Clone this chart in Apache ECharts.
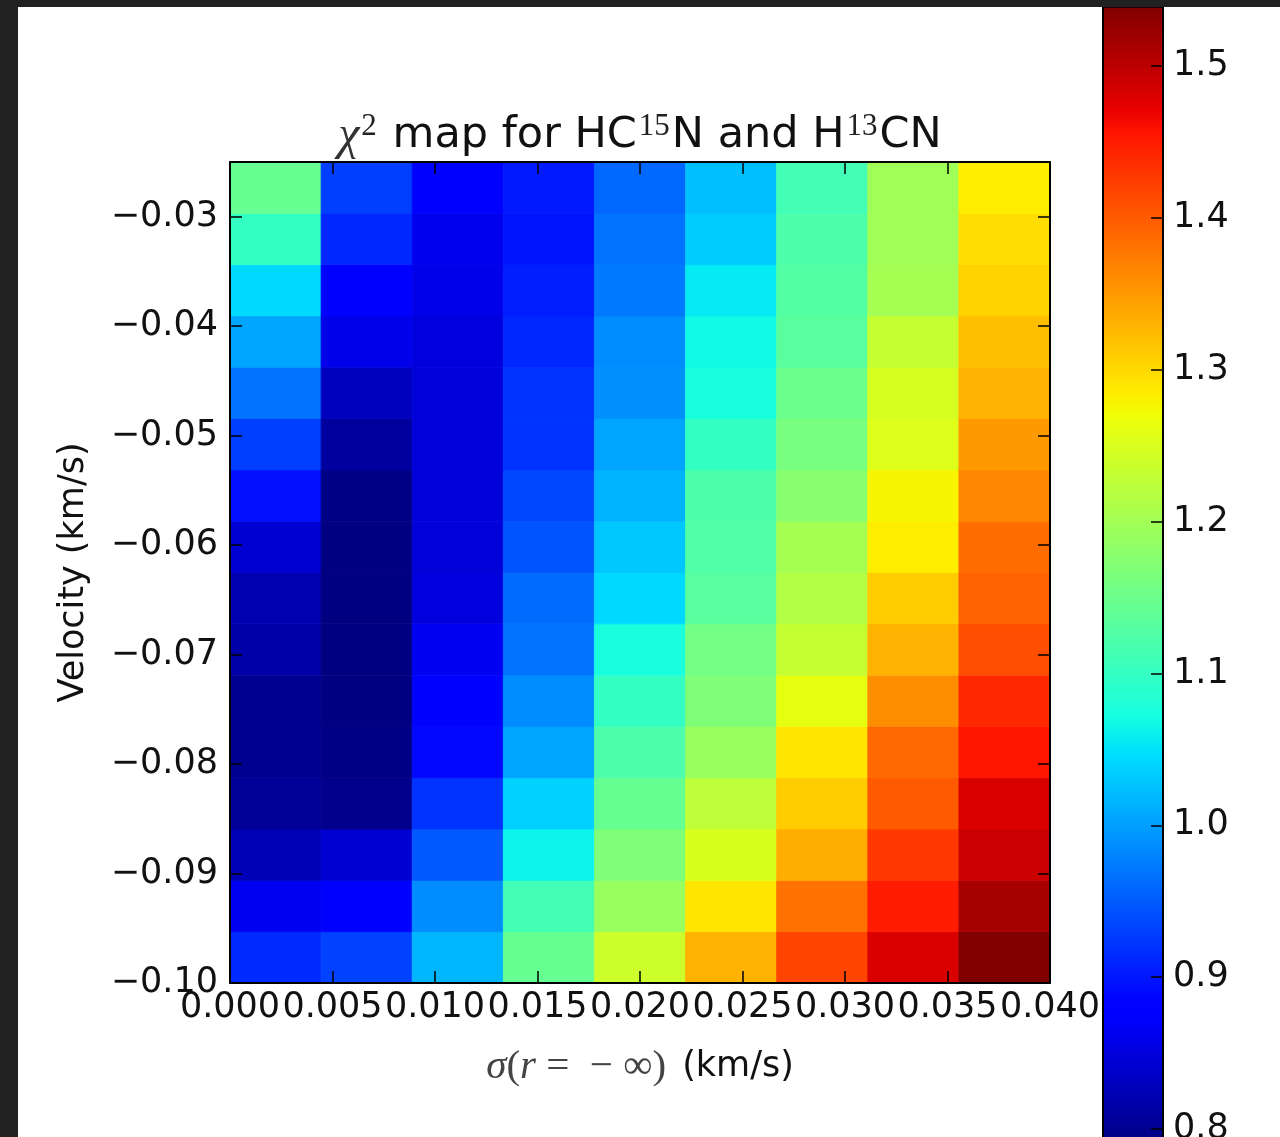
<!DOCTYPE html>
<html><head><meta charset="utf-8">
<script src="https://cdn.jsdelivr.net/npm/echarts@6/dist/echarts.min.js"></script>
<style>html,body{margin:0;padding:0;background:#fff}#c{width:1280px;height:1137px}</style>
</head><body><div id="c"></div>
<script>
// ---- data ----
const sigma = [0.000, 0.005, 0.010, 0.015, 0.020, 0.025, 0.030, 0.035, 0.040];          // km/s (columns)
const velocity = [-0.100, -0.095, -0.090, -0.085, -0.080, -0.075, -0.070, -0.065,
                  -0.060, -0.055, -0.050, -0.045, -0.040, -0.035, -0.030, -0.025];      // km/s (rows, bottom -> top)
// chi^2 per sigma column, ordered as `velocity`
const chi2_s000 = [0.915,0.863,0.826,0.806,0.800,0.800,0.816,0.821,0.843,0.895,0.930,0.968,1.005,1.043,1.099,1.145];
const chi2_s005 = [0.932,0.880,0.843,0.798,0.793,0.790,0.790,0.790,0.790,0.793,0.810,0.831,0.859,0.878,0.912,0.930];
const chi2_s010 = [1.018,0.987,0.949,0.921,0.888,0.876,0.864,0.852,0.848,0.848,0.848,0.848,0.851,0.859,0.861,0.880];
const chi2_s015 = [1.145,1.112,1.063,1.037,1.005,0.987,0.968,0.962,0.945,0.936,0.921,0.921,0.912,0.906,0.898,0.902];
const chi2_s020 = [1.238,1.191,1.168,1.145,1.122,1.099,1.075,1.043,1.030,1.015,1.005,0.990,0.987,0.973,0.968,0.959];
const chi2_s025 = [1.330,1.290,1.250,1.225,1.191,1.168,1.157,1.133,1.125,1.122,1.099,1.075,1.067,1.056,1.033,1.024];
const chi2_s030 = [1.417,1.382,1.334,1.310,1.290,1.262,1.231,1.215,1.202,1.176,1.161,1.150,1.133,1.128,1.122,1.112];
const chi2_s035 = [1.481,1.449,1.427,1.400,1.389,1.360,1.330,1.310,1.284,1.277,1.254,1.247,1.232,1.202,1.198,1.198];
const chi2_s040 = [1.539,1.514,1.490,1.481,1.455,1.440,1.410,1.394,1.385,1.364,1.350,1.330,1.320,1.304,1.296,1.284];
const chi2Columns = [chi2_s000, chi2_s005, chi2_s010, chi2_s015, chi2_s020, chi2_s025, chi2_s030, chi2_s035, chi2_s040];
// image extent and axis ticks
const sigmaExtent = [0.000, 0.040];
const velocityExtent = [-0.100, -0.025];
const sigmaTickStep = 0.005;
const velocityTickStep = 0.01;
const colorbarTickStep = 0.1;
const colorbarAxisRange = [0.7, 1.6];

// ---- jet colormap ----
const JET = {
  r: [[0,0],[0.35,0],[0.66,1],[0.89,1],[1,0.5]],
  g: [[0,0],[0.125,0],[0.375,1],[0.64,1],[0.91,0],[1,0]],
  b: [[0,0.5],[0.11,1],[0.34,1],[0.65,0],[1,0]]
};
function seg(p, t){ for(let i=1;i<p.length;i++){ if(t<=p[i][0]){ const a=p[i-1],b=p[i]; return a[1]+(b[1]-a[1])*(t-a[0])/(b[0]-a[0]); } } return p[p.length-1][1]; }
function jet(t){ t=Math.max(0,Math.min(1,t)); const c=k=>Math.round(255*seg(JET[k],t)); return 'rgb('+c('r')+','+c('g')+','+c('b')+')'; }

let vmin=Infinity, vmax=-Infinity;
chi2Columns.forEach(col=>col.forEach(v=>{ if(v<vmin) vmin=v; if(v>vmax) vmax=v; }));
const nCols = sigma.length, nRows = velocity.length;

const cells = [];
chi2Columns.forEach((col, c) => col.forEach((v, r) => cells.push([sigma[c], velocity[r], v, c, r])));

const gradStops = [];
for (let i = 0; i <= 100; i++) gradStops.push({offset: i/100, color: jet(i/100)});

const FONT = 'DejaVu Sans';
const TXT = '#111';
const fmtMinus = (v, d) => (v < 0 ? '\u2212' : '') + Math.abs(v).toFixed(d);

const chart = echarts.init(document.getElementById('c'), null, {renderer: 'canvas'});
const tickStyle = {show: true, inside: true, length: 12, lineStyle: {color: '#000', width: 1.5}};
const lineStyle = {show: true, onZero: false, lineStyle: {color: '#000', width: 2}};

chart.setOption({
  animation: false,
  backgroundColor: '#fff',
  title: {
    text: '{chi|χ}{sup|2}{t| map for HC}{sup|15}{t|N and H}{sup|13}{t|CN}',
    left: 'center', top: 106,
    textStyle: {
      fontWeight: 'normal',
      rich: {
        t: {fontFamily: FONT, fontSize: 43, fontWeight: 'normal', color: TXT, lineHeight: 50},
        chi: {fontFamily: 'Liberation Serif', fontStyle: 'italic', fontWeight: 'normal', fontSize: 48, color: '#333', lineHeight: 50},
        sup: {fontFamily: 'Liberation Serif', fontSize: 31, fontWeight: 'normal', color: '#222', lineHeight: 32, verticalAlign: 'top', padding: [0, 2, 0, 2]}
      }
    }
  },
  grid: [
    {left: 230, top: 162, width: 820, height: 821, containLabel: false, outerBoundsMode: 'none'},
    {left: 1103, top: -86, width: 60, height: 1367, containLabel: false, outerBoundsMode: 'none'}
  ],
  xAxis: [
    {gridIndex: 0, type: 'value', position: 'bottom', min: sigmaExtent[0], max: sigmaExtent[1], interval: sigmaTickStep, z: 10,
     axisLine: lineStyle, axisTick: tickStyle, splitLine: {show: false},
     axisLabel: {show: true, margin: 7, fontFamily: FONT, fontSize: 35, color: TXT, formatter: v => v.toFixed(3)},
     name: '{m|σ}{u|(}{m|r}{u| =  − ∞)}{t|(km/s)}', nameLocation: 'middle', nameGap: 62,
     nameTextStyle: {rich: {
       m: {fontFamily: 'Liberation Serif', fontStyle: 'italic', fontSize: 41, color: '#444', lineHeight: 44},
       u: {fontFamily: 'Liberation Serif', fontSize: 41, color: '#444', lineHeight: 44},
       t: {fontFamily: FONT, fontSize: 35, color: TXT, lineHeight: 44, padding: [0, 0, 0, 16]}
     }}},
    {gridIndex: 0, type: 'value', position: 'top', min: sigmaExtent[0], max: sigmaExtent[1], interval: sigmaTickStep, z: 10,
     axisLine: lineStyle, axisTick: tickStyle, splitLine: {show: false}, axisLabel: {show: false}},
    {gridIndex: 1, type: 'value', min: 0, max: 1, show: false, axisLine: {onZero: false}}
  ],
  yAxis: [
    {gridIndex: 0, type: 'value', position: 'left', min: velocityExtent[0], max: velocityExtent[1], interval: velocityTickStep, z: 10,
     axisLine: lineStyle, axisTick: tickStyle, splitLine: {show: false},
     axisLabel: {show: true, margin: 12, showMaxLabel: false, fontFamily: FONT, fontSize: 35, color: TXT, formatter: v => fmtMinus(v, 2)},
     name: 'Velocity (km/s)', nameLocation: 'middle', nameGap: 136,
     nameTextStyle: {fontFamily: FONT, fontSize: 35, color: TXT, lineHeight: 40}},
    {gridIndex: 0, type: 'value', position: 'right', min: velocityExtent[0], max: velocityExtent[1], interval: velocityTickStep, z: 10,
     axisLine: lineStyle, axisTick: tickStyle, splitLine: {show: false}, axisLabel: {show: false}},
    {gridIndex: 1, type: 'value', position: 'right', min: colorbarAxisRange[0], max: colorbarAxisRange[1], interval: colorbarTickStep, z: 10,
     axisLine: {show: false, onZero: false}, axisTick: tickStyle, splitLine: {show: false},
     axisLabel: {show: true, margin: 10, fontFamily: FONT, fontSize: 35, color: TXT, formatter: v => v.toFixed(1)}}
  ],
  series: [
    {
      type: 'custom', xAxisIndex: 0, yAxisIndex: 0, z: 2,
      encode: {x: 0, y: 1},
      data: cells,
      renderItem: function (params, api) {
        const c = api.value(3), r = api.value(4), v = api.value(2);
        const dx = (sigmaExtent[1] - sigmaExtent[0]) / nCols;
        const dy = (velocityExtent[1] - velocityExtent[0]) / nRows;
        const p0 = api.coord([sigmaExtent[0] + c * dx, velocityExtent[0] + r * dy]);
        const p1 = api.coord([sigmaExtent[0] + (c + 1) * dx, velocityExtent[0] + (r + 1) * dy]);
        const col = jet((v - vmin) / (vmax - vmin));
        return {type: 'rect',
          shape: {x: p0[0], y: p1[1], width: p1[0] - p0[0], height: p0[1] - p1[1]},
          style: {fill: col, stroke: col, lineWidth: 0.8}};
      }
    },
    {
      type: 'custom', xAxisIndex: 2, yAxisIndex: 2, z: 2,
      encode: {x: 0, y: 1},
      data: [[0, vmin, vmax]],
      renderItem: function (params, api) {
        const p0 = api.coord([0, api.value(1)]);
        const p1 = api.coord([1, api.value(2)]);
        return {type: 'rect',
          shape: {x: p0[0], y: p1[1], width: p1[0] - p0[0], height: p0[1] - p1[1]},
          style: {fill: new echarts.graphic.LinearGradient(0, 1, 0, 0, gradStops), stroke: '#000', lineWidth: 2}};
      }
    }
  ],
  graphic: [
    {type: 'rect', z: 100, shape: {x: 0, y: 0, width: 18, height: 1137}, style: {fill: '#212121'}},
    {type: 'rect', z: 100, shape: {x: 0, y: 0, width: 1280, height: 7}, style: {fill: '#212121'}}
  ]
});
</script></body></html>
